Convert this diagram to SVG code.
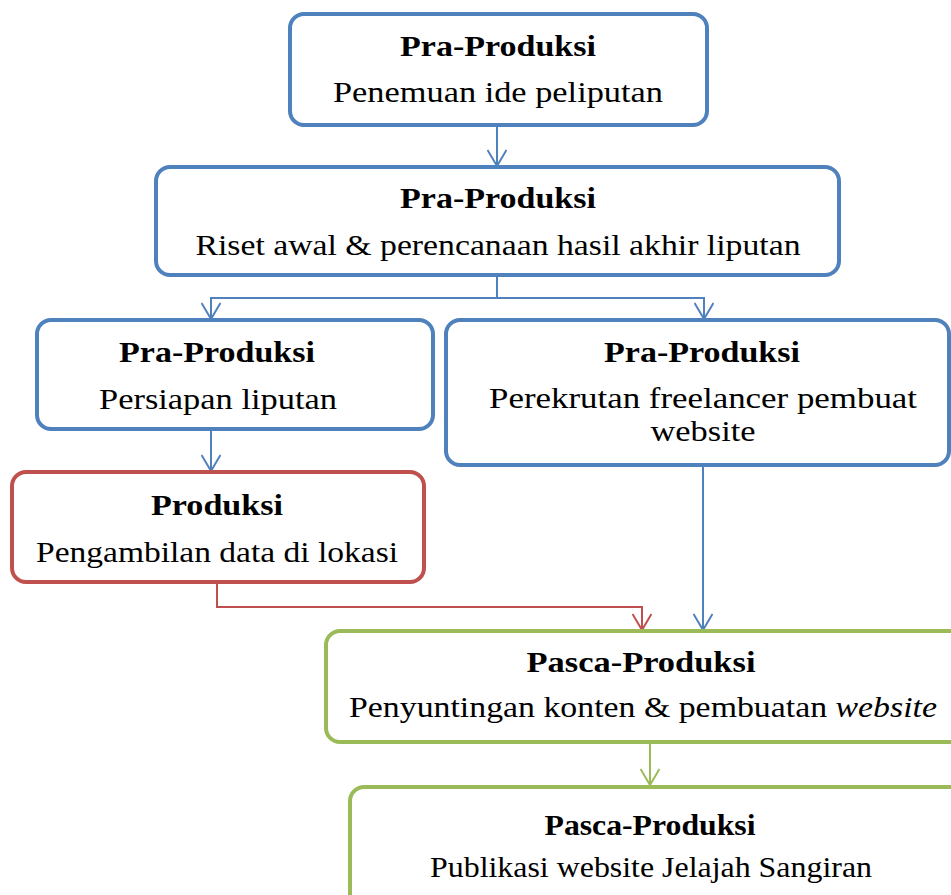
<svg xmlns="http://www.w3.org/2000/svg" width="951" height="895" viewBox="0 0 951 895">
<style>
.box{fill:#fff;stroke-width:4}
.blue{stroke:#4F81BD}
.red{stroke:#C0504D}
.green{stroke:#9BBB59}
.t{font-family:"Liberation Serif","Times New Roman",serif;font-size:30px;fill:#000;text-anchor:middle}
.b{font-weight:bold;font-size:29px}
.c{fill:none;stroke-width:2}
</style>
<defs>
<marker id="ab" viewBox="0 0 20 20" refX="18" refY="10" markerWidth="20" markerHeight="20" markerUnits="userSpaceOnUse" orient="auto">
<path d="M2,0.5 L18,10 L2,19.5" fill="none" stroke="#4F81BD" stroke-width="2"/>
</marker>
<marker id="ar" viewBox="0 0 20 20" refX="18" refY="10" markerWidth="20" markerHeight="20" markerUnits="userSpaceOnUse" orient="auto">
<path d="M2,0.5 L18,10 L2,19.5" fill="none" stroke="#C0504D" stroke-width="2"/>
</marker>
<marker id="ag" viewBox="0 0 20 20" refX="18" refY="10" markerWidth="20" markerHeight="20" markerUnits="userSpaceOnUse" orient="auto">
<path d="M2,0.5 L18,10 L2,19.5" fill="none" stroke="#9BBB59" stroke-width="2"/>
</marker>
</defs>
<g id="connectors">
<path class="c blue" d="M497,125 V166" marker-end="url(#ab)"/>
<path class="c blue" d="M497,275 V298 H211 V319" marker-end="url(#ab)"/>
<path class="c blue" d="M497,298 H704 V319" marker-end="url(#ab)"/>
<path class="c blue" d="M211,429 V471" marker-end="url(#ab)"/>
<path class="c red" d="M217,582 V607 H642 V630" marker-end="url(#ar)"/>
<path class="c blue" d="M703,465 V630" marker-end="url(#ab)"/>
<path class="c green" d="M650,742 V785" marker-end="url(#ag)"/>
</g>
<g id="n1">
<rect class="box blue" x="290" y="14" width="417" height="111" rx="14"/>
<text class="t b" x="498" y="56" textLength="196" lengthAdjust="spacingAndGlyphs">Pra-Produksi</text>
<text class="t" x="498" y="102" textLength="330" lengthAdjust="spacingAndGlyphs">Penemuan ide peliputan</text>
</g>
<g id="n2">
<rect class="box blue" x="156" y="167" width="683" height="108" rx="14"/>
<text class="t b" x="498" y="208" textLength="196" lengthAdjust="spacingAndGlyphs">Pra-Produksi</text>
<text class="t" x="498" y="255" textLength="605" lengthAdjust="spacingAndGlyphs">Riset awal &amp; perencanaan hasil akhir liputan</text>
</g>
<g id="n3">
<rect class="box blue" x="37" y="320" width="396" height="109" rx="14"/>
<text class="t b" x="217" y="362" textLength="196" lengthAdjust="spacingAndGlyphs">Pra-Produksi</text>
<text class="t" x="218" y="409" textLength="238" lengthAdjust="spacingAndGlyphs">Persiapan liputan</text>
</g>
<g id="n4">
<rect class="box blue" x="446" y="320" width="503" height="145" rx="14"/>
<text class="t b" x="702" y="362" textLength="196" lengthAdjust="spacingAndGlyphs">Pra-Produksi</text>
<text class="t" x="703" y="408" textLength="428" lengthAdjust="spacingAndGlyphs">Perekrutan freelancer pembuat</text>
<text class="t" x="703" y="441" textLength="105" lengthAdjust="spacingAndGlyphs">website</text>
</g>
<g id="n5">
<rect class="box red" x="12" y="472" width="412" height="110" rx="14"/>
<text class="t b" x="217" y="515" textLength="132" lengthAdjust="spacingAndGlyphs">Produksi</text>
<text class="t" x="217" y="562" textLength="362" lengthAdjust="spacingAndGlyphs">Pengambilan data di lokasi</text>
</g>
<g id="n6">
<rect class="box green" x="326" y="631" width="640" height="111" rx="14"/>
<text class="t b" x="641" y="672" textLength="229" lengthAdjust="spacingAndGlyphs">Pasca-Produksi</text>
<text class="t" x="643" y="717" textLength="588" lengthAdjust="spacingAndGlyphs">Penyuntingan konten &amp; pembuatan <tspan font-style="italic">website</tspan></text>
</g>
<g id="n7">
<rect class="box green" x="350" y="787" width="616" height="130" rx="14"/>
<text class="t b" x="650" y="835" textLength="211" lengthAdjust="spacingAndGlyphs">Pasca-Produksi</text>
<text class="t" x="651" y="877" textLength="442" lengthAdjust="spacingAndGlyphs">Publikasi website Jelajah Sangiran</text>
</g>
</svg>
